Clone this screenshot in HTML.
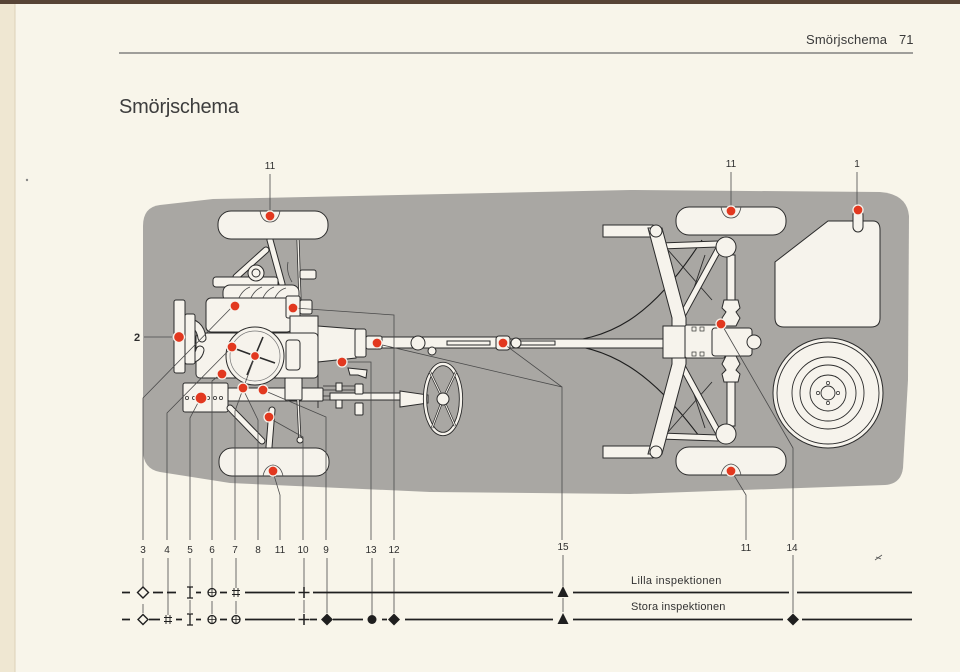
<!DOCTYPE html>
<html><head><meta charset="utf-8">
<style>
html,body{margin:0;padding:0;background:#f8f5ea;}
svg{display:block;}
text{font-family:"Liberation Sans",sans-serif;}
.o{fill:#f6f3ec;stroke:#2b2b2b;stroke-width:1;}
.ld{fill:none;stroke:#4a4a4a;stroke-width:0.8;}
.r{fill:#e2381f;stroke:#f6f3ec;stroke-width:1.3;}
.tk{fill:none;stroke:#2b2b2b;stroke-linecap:round;}
.tw{fill:none;stroke:#f6f3ec;stroke-linecap:round;}
.lg{stroke:#1f1f1f;stroke-width:1.7;fill:none;}
.sy{stroke:#1f1f1f;stroke-width:1.3;fill:none;}
.n{font-size:10px;fill:#2e2e2e;text-anchor:middle;}
</style></head>
<body>
<svg width="960" height="672" viewBox="0 0 960 672" xmlns="http://www.w3.org/2000/svg">
<rect x="0" y="0" width="960" height="672" fill="#f8f5ea"/>
<rect x="0" y="0" width="15" height="672" fill="#efe7d2"/>
<line x1="15" y1="0" x2="15" y2="672" stroke="#dcd1b8" stroke-width="1"/>
<rect x="0" y="0" width="960" height="4" fill="#574436"/>
<circle cx="27" cy="180" r="1.2" fill="#888"/>

<text x="806" y="44" font-size="13" fill="#3a3a3a" textLength="81">Smörjschema</text>
<text x="899" y="44" font-size="13" fill="#3a3a3a">71</text>
<line x1="119" y1="53" x2="913" y2="53" stroke="#6a6a6a" stroke-width="1.3"/>
<text x="119" y="113" font-size="20" fill="#3d3d3d" textLength="120">Smörjschema</text>

<path d="M143 226 Q143 207 160 205 L213 199 L630 190 L880 192 Q907 194 909 216 L908 380 L903 468 Q901 484 885 485 L630 494 L430 492 L230 483 L160 472 Q143 469 143 450 Z" fill="#a9a7a3"/>

<text class="n" x="270" y="169">11</text>
<line class="ld" x1="270" y1="174" x2="270" y2="212"/>
<text class="n" x="731" y="167">11</text>
<line class="ld" x1="731" y1="172" x2="731" y2="208"/>
<text class="n" x="857" y="167">1</text>
<line class="ld" x1="857" y1="172" x2="857" y2="206"/>

<!-- FRONT -->
<path class="tk" stroke-width="7" d="M270 240 L282 284 M266 250 L236 277"/>
<path class="tw" stroke-width="5" d="M270 240 L282 284 M266 250 L236 277"/>
<path d="M298 240 L300 300" stroke="#2b2b2b" stroke-width="3"/>
<path d="M298 240 L300 300" stroke="#f6f3ec" stroke-width="1.4"/>
<rect class="o" x="300" y="270" width="16" height="9" rx="2"/>
<path d="M288 262 Q286 272 292 282" class="ld" stroke="#222"/>
<rect class="o" x="218" y="211" width="110" height="28" rx="13"/>
<path d="M260 211 Q262 222 270 222 Q278 222 280 211" class="ld" stroke="#333"/>
<rect class="o" x="213" y="277" width="65" height="10" rx="3"/>
<circle class="o" cx="256" cy="273" r="8"/>
<circle class="o" cx="256" cy="273" r="4"/>
<rect class="o" x="223" y="285" width="76" height="17" rx="7"/>
<path class="ld" stroke="#222" d="M238 300 Q242 290 250 287 M250 300 Q254 290 262 287 M262 300 Q266 290 274 287 M274 300 Q278 290 286 288"/>
<rect class="o" x="206" y="298" width="86" height="34" rx="5"/>
<rect class="o" x="286" y="296" width="14" height="22" rx="2"/>
<rect class="o" x="300" y="300" width="12" height="14" rx="2"/>
<path class="o" d="M290 316 L318 316 L318 326 L356 329 L356 358 L318 362 L318 370 L290 370 Z"/>
<rect class="o" x="355" y="329" width="11" height="28" rx="2"/>
<rect class="o" x="366" y="336" width="16" height="13" rx="2"/>
<line x1="318" y1="316" x2="318" y2="408" stroke="#2b2b2b" stroke-width="0.9"/>
<rect class="o" x="196" y="333" width="122" height="45" rx="4"/>
<rect class="o" x="286" y="340" width="14" height="30" rx="3"/>
<path class="tk" stroke-width="9" d="M184 322 Q200 322 202 338 M184 360 Q198 360 200 350"/>
<path class="tw" stroke-width="7" d="M184 322 Q200 322 202 338 M184 360 Q198 360 200 350"/>
<rect class="o" x="174" y="300" width="11" height="73" rx="2"/>
<rect class="o" x="185" y="314" width="10" height="50" rx="2"/>
<circle class="o" cx="255" cy="356" r="29"/>
<circle cx="255" cy="356" r="25" fill="none" stroke="#777" stroke-width="0.7"/>
<path d="M255 356 L263 337 M255 356 L275 363 M255 356 L247 375 M255 356 L236 349" stroke="#2b2b2b" stroke-width="1.6"/>
<rect class="o" x="228" y="388" width="95" height="13" rx="1"/>
<rect class="o" x="183" y="383" width="45" height="29" rx="2"/>
<g fill="#f6f3ec" stroke="#333" stroke-width="0.8">
<circle cx="187" cy="398" r="1.6"/><circle cx="194" cy="398" r="1.6"/><circle cx="208" cy="398" r="1.6"/><circle cx="215" cy="398" r="1.6"/><circle cx="221" cy="398" r="1.6"/>
</g>
<rect class="o" x="285" y="378" width="17" height="22" rx="1"/>
<path d="M323 386 L362 386 M323 390 L362 390 M323 396 L362 396 M323 400 L362 400" stroke="#2b2b2b" stroke-width="0.8"/>
<rect class="o" x="330" y="393" width="72" height="7"/>
<path class="o" d="M400 391 L428 395 L428 403 L400 407 Z"/>
<rect class="o" x="355" y="384" width="8" height="10" rx="1"/>
<rect class="o" x="355" y="403" width="8" height="12" rx="1"/>
<rect class="o" x="336" y="383" width="6" height="8"/>
<rect class="o" x="336" y="400" width="6" height="8"/>
<path class="o" d="M348 368 L367 370 L366 378 L358 375 L350 375 Z"/>
<ellipse cx="443" cy="399" rx="18" ry="35" fill="none" stroke="#2b2b2b" stroke-width="4.2"/>
<ellipse cx="443" cy="399" rx="18" ry="35" fill="none" stroke="#f6f3ec" stroke-width="2.4"/>
<path d="M443 399 L430 372 M443 399 L456 372 M443 399 L432 428 M443 399 L455 426" stroke="#2b2b2b" stroke-width="2.4"/>
<path d="M443 399 L430 372 M443 399 L456 372 M443 399 L432 428 M443 399 L455 426" stroke="#f6f3ec" stroke-width="1"/>
<circle class="o" cx="443" cy="399" r="6"/>
<path class="tk" stroke-width="7" d="M230 408 L262 441 M272 410 L269 447"/>
<path class="tw" stroke-width="5" d="M230 408 L262 441 M272 410 L269 447"/>
<path d="M298 400 L300 442" stroke="#2b2b2b" stroke-width="3"/>
<path d="M298 400 L300 442" stroke="#f6f3ec" stroke-width="1.4"/>
<circle class="o" cx="300" cy="440" r="3"/>
<rect class="o" x="219" y="448" width="110" height="28" rx="13"/>
<path d="M263 476 Q265 466 273 465 Q281 466 283 476" class="ld" stroke="#333"/>

<!-- PROPSHAFT -->
<path d="M550 343 C610 340 650 320 702 240" fill="none" stroke="#1e1e1e" stroke-width="1.1"/>
<path d="M550 343 C610 346 650 370 702 440" fill="none" stroke="#1e1e1e" stroke-width="1.1"/>
<rect class="o" x="382" y="337" width="118" height="11"/>
<rect class="o" x="447" y="341" width="43" height="4"/>
<circle class="o" cx="418" cy="343" r="7"/>
<circle class="o" cx="432" cy="351" r="4"/>
<rect class="o" x="510" y="339" width="155" height="9"/>
<rect class="o" x="520" y="341" width="35" height="4"/>
<rect class="o" x="496" y="336" width="14" height="14" rx="3"/>
<circle class="o" cx="516" cy="343" r="5"/>

<!-- REAR -->
<rect class="o" x="603" y="225" width="50" height="12"/>
<rect class="o" x="603" y="446" width="50" height="12"/>
<path d="M668 250 L712 300 M668 432 L712 382 M690 300 L705 255 M690 382 L705 428" stroke="#2b2b2b" stroke-width="0.9"/>
<path class="tk" stroke-width="7" d="M660 246 L718 244 M682 316 L718 250"/>
<path class="tw" stroke-width="5" d="M660 246 L718 244 M682 316 L718 250"/>
<path class="tk" stroke-width="7" d="M660 436 L718 438 M682 366 L718 432"/>
<path class="tw" stroke-width="5" d="M660 436 L718 438 M682 366 L718 432"/>
<path class="o" d="M648 228 L662 228 L686 318 L686 364 L662 454 L648 454 L672 364 L672 318 Z"/>
<rect class="o" x="663" y="326" width="22" height="32"/>
<circle class="o" cx="656" cy="231" r="6"/>
<circle class="o" cx="656" cy="452" r="6"/>
<rect class="o" x="727" y="255" width="8" height="70"/>
<rect class="o" x="727" y="358" width="8" height="68"/>
<path class="o" d="M724 300 L738 300 L740 308 L736 312 L740 318 L736 326 L726 326 L722 318 L726 312 L722 308 Z"/>
<path class="o" d="M724 382 L738 382 L740 374 L736 370 L740 364 L736 356 L726 356 L722 364 L726 370 L722 374 Z"/>
<circle class="o" cx="726" cy="247" r="10"/>
<circle class="o" cx="726" cy="434" r="10"/>
<rect class="o" x="685" y="325" width="40" height="33" rx="2"/>
<rect class="o" x="712" y="328" width="40" height="28" rx="3"/>
<circle class="o" cx="754" cy="342" r="7"/>
<g fill="#f6f3ec" stroke="#333" stroke-width="0.7">
<rect x="692" y="327" width="4" height="4"/><rect x="700" y="327" width="4" height="4"/>
<rect x="692" y="352" width="4" height="4"/><rect x="700" y="352" width="4" height="4"/>
</g>
<rect class="o" x="676" y="207" width="110" height="28" rx="13"/>
<path d="M721 207 Q723 218 731 218 Q739 218 741 207" class="ld" stroke="#333"/>
<rect class="o" x="676" y="447" width="110" height="28" rx="13"/>
<path d="M721 475 Q723 465 731 464 Q739 465 741 475" class="ld" stroke="#333"/>
<path class="o" d="M775 262 L828 221 L873 221 Q880 221 880 230 L880 318 Q880 327 871 327 L784 327 Q775 327 775 318 Z"/>
<rect class="o" x="853" y="210" width="10" height="22" rx="5"/>
<circle class="o" cx="828" cy="393" r="55"/>
<circle cx="828" cy="393" r="51" fill="none" stroke="#2b2b2b" stroke-width="0.9"/>
<circle cx="828" cy="393" r="36" fill="none" stroke="#2b2b2b" stroke-width="0.9"/>
<circle cx="828" cy="393" r="28" fill="none" stroke="#2b2b2b" stroke-width="0.9"/>
<circle cx="828" cy="393" r="18" fill="none" stroke="#2b2b2b" stroke-width="0.9"/>
<circle cx="828" cy="393" r="7" fill="none" stroke="#2b2b2b" stroke-width="0.9"/>
<g fill="#f6f3ec" stroke="#2b2b2b" stroke-width="0.7">
<circle cx="828" cy="383" r="1.6"/><circle cx="828" cy="403" r="1.6"/><circle cx="818" cy="393" r="1.6"/><circle cx="838" cy="393" r="1.6"/>
</g>

<!-- LEADERS -->
<g class="ld">
<path d="M144 337 L172 337"/>
<path d="M143 540 L143 398 L233 306"/>
<path d="M167 540 L167 413 L231 348"/>
<path d="M190 540 L190 418 L200 399"/>
<path d="M212 540 L212 381 L221 374"/>
<path d="M235 540 L235 411 L255 356"/>
<path d="M258 540 L258 420 L243 389"/>
<path d="M280 540 L280 495 L273 472"/>
<path d="M303 540 L303 437 L269 418"/>
<path d="M326 540 L326 417 L263 390"/>
<path d="M371 540 L371 362 L342 362"/>
<path d="M394 540 L394 315 L294 308"/>
<path d="M562 540 L562 387 L378 344 M562 387 L504 344"/>
<path d="M746 540 L746 495 L732 472"/>
<path d="M793 540 L793 448 L722 325"/>
</g>

<g class="r">
<circle cx="270" cy="216" r="5"/>
<circle cx="731" cy="211" r="5"/>
<circle cx="858" cy="210" r="5"/>
<circle cx="179" cy="337" r="5.5"/>
<circle cx="235" cy="306" r="5"/>
<circle cx="293" cy="308" r="5"/>
<circle cx="232" cy="347" r="5"/>
<circle cx="255" cy="356" r="4.5"/>
<circle cx="222" cy="374" r="5"/>
<circle cx="201" cy="398" r="6"/>
<circle cx="243" cy="388" r="5"/>
<circle cx="263" cy="390" r="5"/>
<circle cx="269" cy="417" r="5"/>
<circle cx="273" cy="471" r="5"/>
<circle cx="342" cy="362" r="5"/>
<circle cx="377" cy="343" r="5"/>
<circle cx="503" cy="343" r="5"/>
<circle cx="721" cy="324" r="5"/>
<circle cx="731" cy="471" r="5"/>
</g>
<text x="137" y="341" font-size="11" fill="#2e2e2e" text-anchor="middle" font-weight="bold">2</text>

<g>
<text class="n" x="143" y="553">3</text>
<text class="n" x="167" y="553">4</text>
<text class="n" x="190" y="553">5</text>
<text class="n" x="212" y="553">6</text>
<text class="n" x="235" y="553">7</text>
<text class="n" x="258" y="553">8</text>
<text class="n" x="280" y="553">11</text>
<text class="n" x="303" y="553">10</text>
<text class="n" x="326" y="553">9</text>
<text class="n" x="371" y="553">13</text>
<text class="n" x="394" y="553">12</text>
<text class="n" x="563" y="550">15</text>
<text class="n" x="746" y="551">11</text>
<text class="n" x="792" y="551">14</text>
</g>
<path d="M875 560 L882 555 M876 557 L881 559" stroke="#555" stroke-width="0.8"/>

<g class="ld">
<path d="M143 558 L143 587 M143 604 L143 613"/>
<path d="M168 558 L168 615"/>
<path d="M190 558 L190 587 M190 600 L190 613"/>
<path d="M212 558 L212 588 M212 601 L212 614"/>
<path d="M236 558 L236 588 M236 601 L236 614"/>
<path d="M304 558 L304 587 M304 600 L304 613"/>
<path d="M327 558 L327 613"/>
<path d="M372 558 L372 615"/>
<path d="M394 558 L394 613"/>
<path d="M563 555 L563 586 M563 598 L563 612"/>
<path d="M793 555 L793 613"/>
</g>

<g class="lg">
<path d="M122 592.5 L130 592.5 M153 592.5 L163 592.5 M167 592.5 L176 592.5 M196 592.5 L201 592.5 M220 592.5 L227 592.5 M245 592.5 L295 592.5 M313 592.5 L553 592.5 M573 592.5 L789 592.5 M797 592.5 L912 592.5"/>
</g>
<g class="sy">
<path d="M143 587 L148.5 592.5 L143 598 L137.5 592.5 Z" stroke-width="1.4"/>
<path d="M190 587 L190 598 M187 587 L193 587 M187 598 L193 598"/>
<circle cx="212" cy="592.5" r="4"/><path d="M208 592.5 L216 592.5 M212 588.5 L212 596.5" stroke-width="0.8"/>
<path d="M234 588 L234 597 M238 588 L238 597 M232 590.5 L240 590.5 M232 594.5 L240 594.5" stroke-width="0.9"/>
<path d="M304 587 L304 598 M298.5 592.5 L309.5 592.5" stroke-width="1.5"/>
</g>
<path d="M563 586 L568.5 597 L557.5 597 Z" fill="#1f1f1f"/>

<g class="lg">
<path d="M122 619.5 L130 619.5 M149 619.5 L160 619.5 M176 619.5 L182 619.5 M196 619.5 L201 619.5 M220 619.5 L227 619.5 M245 619.5 L295 619.5 M310 619.5 L317 619.5 M333 619.5 L363 619.5 M382 619.5 L387 619.5 M405 619.5 L553 619.5 M573 619.5 L783 619.5 M802 619.5 L912 619.5"/>
</g>
<g class="sy">
<path d="M143 614.5 L148 619.5 L143 624.5 L138 619.5 Z" stroke-width="1.4"/>
<path d="M166 615 L166 624 M170 615 L170 624 M164 617.5 L172 617.5 M164 621.5 L172 621.5" stroke-width="0.9"/>
<path d="M190 614 L190 625 M187 614 L193 614 M187 625 L193 625"/>
<circle cx="212" cy="619.5" r="4"/><path d="M208 619.5 L216 619.5 M212 615.5 L212 623.5" stroke-width="0.8"/>
<circle cx="236" cy="619.5" r="4"/><path d="M232 619.5 L240 619.5 M236 615.5 L236 623.5" stroke-width="0.8"/>
<path d="M304 614 L304 625 M298.5 619.5 L309.5 619.5" stroke-width="1.5"/>
</g>
<path d="M327 613.5 L333 619.5 L327 625.5 L321 619.5 Z" fill="#1f1f1f"/>
<circle cx="372" cy="619.5" r="4.5" fill="#1f1f1f"/>
<path d="M394 613.5 L400 619.5 L394 625.5 L388 619.5 Z" fill="#1f1f1f"/>
<path d="M563 613 L568.5 624 L557.5 624 Z" fill="#1f1f1f"/>
<path d="M793 613.5 L799 619.5 L793 625.5 L787 619.5 Z" fill="#1f1f1f"/>

<text x="631" y="584" font-size="11" fill="#333" textLength="91" letter-spacing="0.6">Lilla inspektionen</text>
<text x="631" y="610" font-size="11" fill="#333" textLength="95" letter-spacing="0.6">Stora inspektionen</text>
</svg>
</body></html>
